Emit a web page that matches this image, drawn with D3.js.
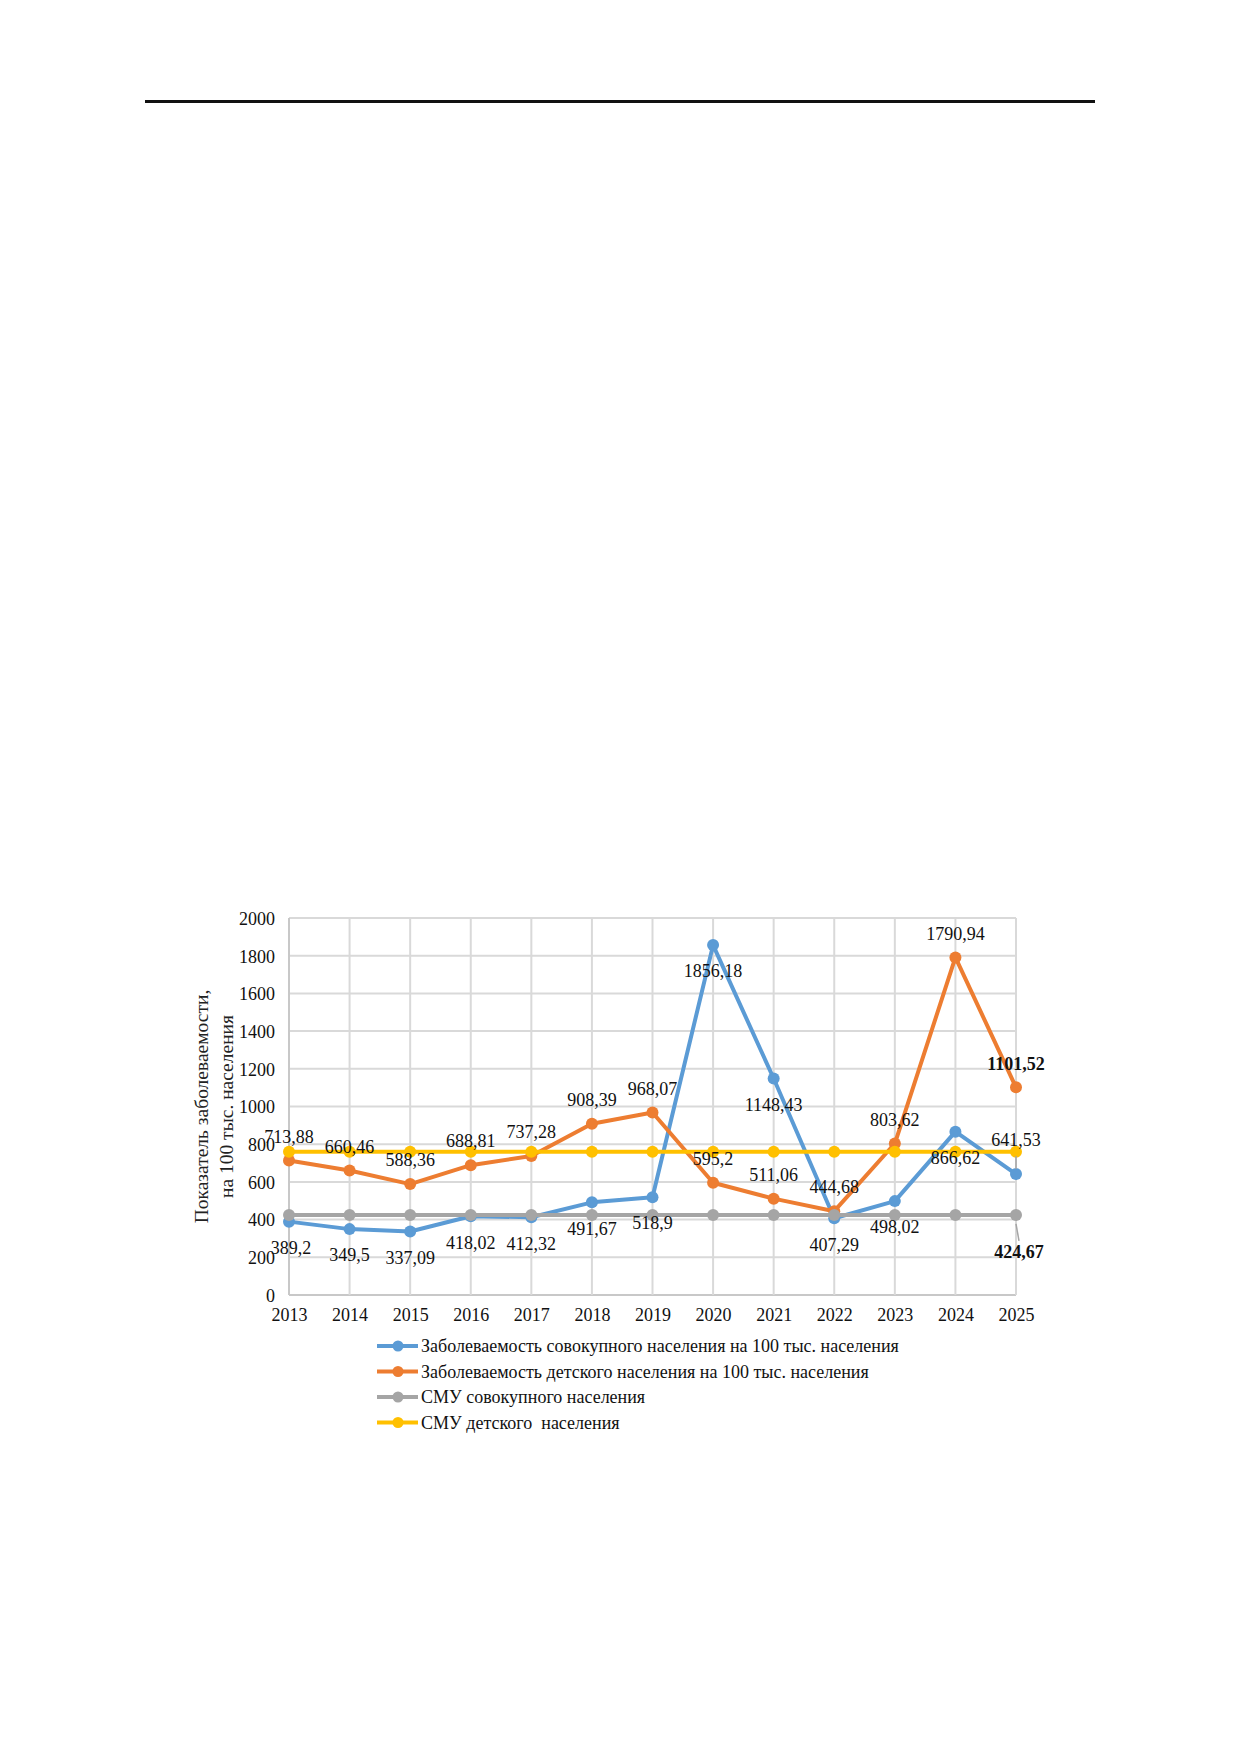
<!DOCTYPE html>
<html>
<head>
<meta charset="utf-8">
<script src="https://cdn.jsdelivr.net/npm/d3@7/dist/d3.min.js"></script>
<style>
  html, body { margin: 0; padding: 0; background: #fff; }
  svg text { font-family: "Liberation Serif", "Times New Roman", serif; }
</style>
</head>
<body>
<div id="chart"></div>
<script>
// data
const years = ["2013","2014","2015","2016","2017","2018","2019","2020","2021","2022","2023","2024","2025"];
const totalRate = [389.2, 349.5, 337.09, 418.02, 412.32, 491.67, 518.9, 1856.18, 1148.43, 407.29, 498.02, 866.62, 641.53];
const childRate = [713.88, 660.46, 588.36, 688.81, 737.28, 908.39, 968.07, 595.2, 511.06, 444.68, 803.62, 1790.94, 1101.52];
const smuTotal = [424.67, 424.67, 424.67, 424.67, 424.67, 424.67, 424.67, 424.67, 424.67, 424.67, 424.67, 424.67, 424.67];
const smuChild = [760, 760, 760, 760, 760, 760, 760, 760, 760, 760, 760, 760, 760];
const yTicks = [0, 200, 400, 600, 800, 1000, 1200, 1400, 1600, 1800, 2000];
const seriesNames = [
  "Заболеваемость совокупного населения на 100 тыс. населения",
  "Заболеваемость детского населения на 100 тыс. населения",
  "СМУ совокупного населения",
  "СМУ детского  населения"
];

const W = 1240, H = 1754;
const svg = d3.select("#chart").append("svg")
  .attr("width", W).attr("height", H);

// top rule of the page
svg.append("rect")
  .attr("x", 145).attr("y", 100)
  .attr("width", 950).attr("height", 3)
  .attr("fill", "#111");

const plot = { left: 289, right: 1016, top: 918, bottom: 1295 };

const x = d3.scalePoint().domain(years).range([plot.left, plot.right]);
const y = d3.scaleLinear().domain([0, 2000]).range([plot.bottom, plot.top]);

const fmt = v => String(v).replace(".", ",");

// grid
const grid = svg.append("g");
grid.selectAll("line.h").data(yTicks).join("line")
  .attr("x1", plot.left).attr("x2", plot.right)
  .attr("y1", d => y(d)).attr("y2", d => y(d))
  .attr("stroke", d => d === 0 ? "#c8c8c8" : "#d9d9d9")
  .attr("stroke-width", 2);
grid.selectAll("line.v").data(years).join("line")
  .attr("x1", d => x(d)).attr("x2", d => x(d))
  .attr("y1", plot.top).attr("y2", plot.bottom)
  .attr("stroke", (d, i) => i === 0 ? "#c8c8c8" : "#d9d9d9")
  .attr("stroke-width", 2);

// axes labels via d3 axes
const yAxis = svg.append("g")
  .attr("transform", `translate(${plot.left - 14},0)`)
  .call(d3.axisLeft(y).tickValues(yTicks).tickFormat(d3.format("d")).tickSize(0).tickPadding(0));
yAxis.select(".domain").remove();
yAxis.selectAll("text")
  .style("font-size", "18px").attr("fill", "#111")
  .attr("dy", "0.35em");

const xAxis = svg.append("g")
  .attr("transform", `translate(0,${plot.bottom})`)
  .call(d3.axisBottom(x).tickSize(0).tickPadding(0));
xAxis.select(".domain").remove();
xAxis.selectAll("text")
  .style("font-size", "18px").attr("fill", "#111")
  .attr("y", 20).attr("dy", "0.35em");

// y title
const yTitle = svg.append("text")
  .attr("transform", `translate(201,${(plot.top + plot.bottom) / 2}) rotate(-90)`)
  .attr("text-anchor", "middle")
  .style("font-size", "19.5px")
  .attr("fill", "#222");
yTitle.append("tspan").attr("x", 0).attr("dy", "0.35em").text("Показатель заболеваемости,");
yTitle.append("tspan").attr("x", 0).attr("dy", "1.28em").text("на 100 тыс. населения");

// series
const series = [
  { name: seriesNames[0], values: totalRate, color: "#5B9BD5" },
  { name: seriesNames[1], values: childRate, color: "#ED7D31" },
  { name: seriesNames[2], values: smuTotal, color: "#A5A5A5" },
  { name: seriesNames[3], values: smuChild, color: "#FFC000" }
];

const line = d3.line().x((d, i) => x(years[i])).y(d => y(d));

series.forEach(s => {
  const g = svg.append("g");
  g.append("path")
    .attr("d", line(s.values))
    .attr("fill", "none")
    .attr("stroke", s.color)
    .attr("stroke-width", 4)
    .attr("stroke-linejoin", "round");
  g.selectAll("circle").data(s.values).join("circle")
    .attr("cx", (d, i) => x(years[i]))
    .attr("cy", d => y(d))
    .attr("r", 6)
    .attr("fill", s.color);
});

// leader lines for moved labels at 2025
const last = years[years.length - 1];
svg.append("line")
  .attr("x1", x(last)).attr("x2", x(last))
  .attr("y1", y(641.53) - 18).attr("y2", y(641.53) - 5)
  .attr("stroke", "#a5a5a5").attr("stroke-width", 1.5);
svg.append("line")
  .attr("x1", x(last)).attr("x2", x(last) + 3)
  .attr("y1", y(424.67) + 9).attr("y2", y(424.67) + 26)
  .attr("stroke", "#a5a5a5").attr("stroke-width", 1.5);

// data labels
const labels = svg.append("g").style("font-size", "18px").attr("fill", "#111");

// total population: below the point (last one moved above)
labels.selectAll("text.t").data(totalRate).join("text")
  .attr("text-anchor", "middle")
  .attr("dy", "0.35em")
  .attr("x", (d, i) => x(years[i]) + (i === 0 ? 2 : 0))
  .attr("y", (d, i) => i === totalRate.length - 1 ? y(d) - 34 : y(d) + 26)
  .text(d => fmt(d));

// children: above the point
labels.selectAll("text.c").data(childRate).join("text")
  .attr("text-anchor", "middle")
  .attr("dy", "0.35em")
  .attr("x", (d, i) => x(years[i]))
  .attr("y", d => y(d) - 24)
  .style("font-weight", (d, i) => i === childRate.length - 1 ? "bold" : null)
  .text(d => fmt(d));

// SMU total: single bold label at the end
labels.append("text")
  .attr("text-anchor", "middle")
  .attr("dy", "0.35em")
  .attr("x", x(last) + 3)
  .attr("y", y(smuTotal[smuTotal.length - 1]) + 37)
  .style("font-weight", "bold")
  .text(fmt(smuTotal[smuTotal.length - 1]));

// legend
const legend = svg.append("g").attr("transform", "translate(377,1346)");
series.forEach((s, i) => {
  const row = legend.append("g").attr("transform", `translate(0,${i * 25.5})`);
  row.append("line")
    .attr("x1", 0).attr("x2", 41).attr("y1", 0).attr("y2", 0)
    .attr("stroke", s.color).attr("stroke-width", 4);
  row.append("circle").attr("cx", 21).attr("cy", 0).attr("r", 5.5).attr("fill", s.color);
  row.append("text")
    .attr("x", 44).attr("y", 0).attr("dy", "0.35em")
    .style("font-size", "18px").style("white-space", "pre").attr("fill", "#111")
    .text(s.name);
});
</script>
</body>
</html>
